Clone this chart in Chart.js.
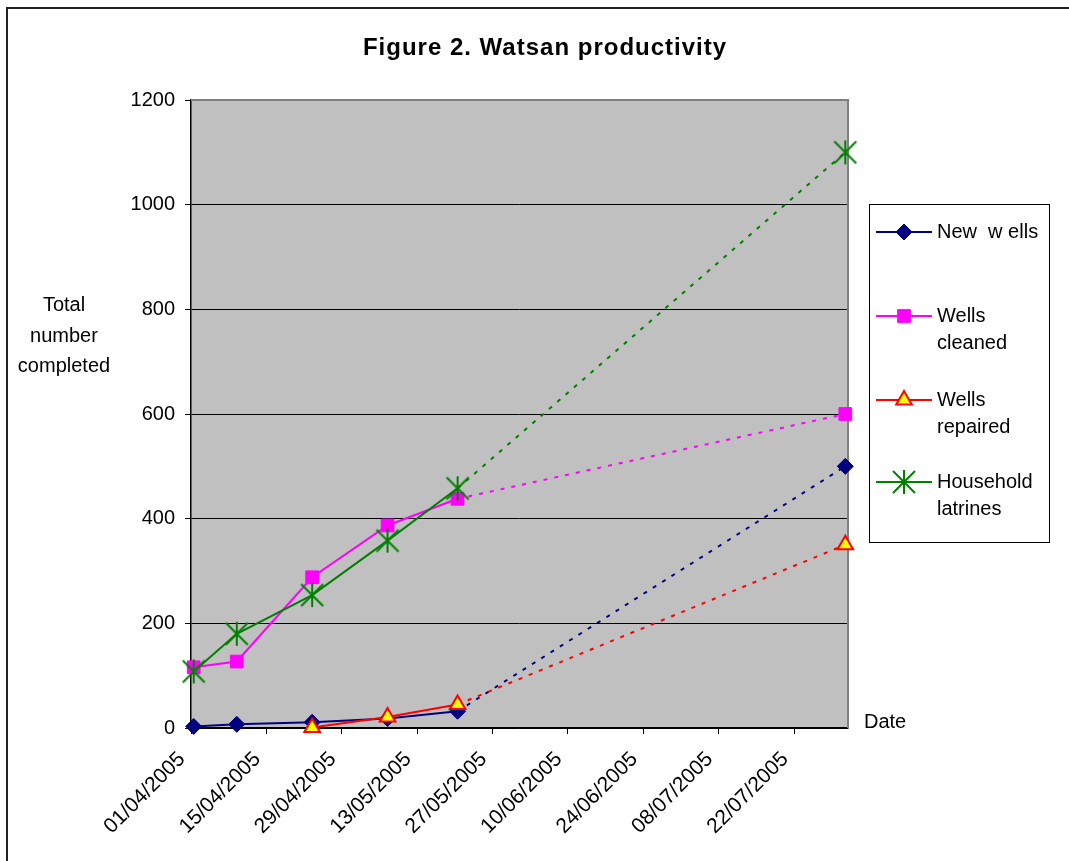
<!DOCTYPE html>
<html>
<head>
<meta charset="utf-8">
<title>Figure 2. Watsan productivity</title>
<script src="https://cdn.jsdelivr.net/npm/chart.js@4.4.1/dist/chart.umd.min.js"></script>
<style>
  html, body { margin: 0; padding: 0; background: #fff; }
  #wrap { width: 1069px; height: 861px; }
</style>
</head>
<body>
<div id="wrap"><canvas id="chart" width="1069" height="861"></canvas></div>
<script>
'use strict';

// reporting dates and running totals
var dates = ['01/04/2005', '09/04/2005', '23/04/2005', '07/05/2005', '20/05/2005', '31/07/2005'];
var newWells = [3, 7, 11, 18, 32, 500];
var wellsCleaned = [116, 127, 288, 387, 438, 600];
var wellsRepaired = [null, null, 1, 21, 45, 350];
var latrines = [108, 180, 254, 358, 458, 1100];
// index of the projected (target) point, joined with a dotted line
var projected = 5;

var xTicks = ['01/04/2005', '15/04/2005', '29/04/2005', '13/05/2005', '27/05/2005',
  '10/06/2005', '24/06/2005', '08/07/2005', '22/07/2005'];
var xEnd = '01/08/2005';
var yMax = 1200;
var yStep = 200;

var FONT = "'Liberation Sans', Arial, sans-serif";
var DAY = 86400000;

function parseDate(s) {
  var p = s.split('/');
  return Date.UTC(+p[2], +p[1] - 1, +p[0]);
}
function dayOf(s) {
  return (parseDate(s) - parseDate(xTicks[0])) / DAY;
}
// excel puts each date in the middle of its day slot
function points(values) {
  return values.map(function (v, i) {
    return { x: dayOf(dates[i]) + 0.5, y: v };
  });
}

// excel style star marker (x with a vertical bar)
var star = document.createElement('canvas');
star.width = 26;
star.height = 26;
(function () {
  var c = star.getContext('2d');
  c.strokeStyle = '#008000';
  c.lineWidth = 2;
  c.beginPath();
  c.moveTo(2, 2); c.lineTo(24, 24);
  c.moveTo(24, 2); c.lineTo(2, 24);
  c.moveTo(13, 1); c.lineTo(13, 25);
  c.stroke();
})();

var dotted = {
  borderDash: function (ctx) {
    return ctx.p1DataIndex === projected ? [4, 7] : undefined;
  }
};

function series(label, data, color, fill, style, radius, order) {
  return {
    label: label,
    data: points(data),
    borderColor: color,
    backgroundColor: fill,
    pointBorderColor: color,
    pointBackgroundColor: fill,
    pointStyle: style,
    pointRadius: radius,
    pointHoverRadius: radius,
    pointBorderWidth: style === 'triangle' ? 2 : 1,
    borderWidth: 2,
    tension: 0,
    spanGaps: false,
    clip: false,
    order: order,
    segment: dotted
  };
}

var decor = {
  id: 'decor',
  beforeDraw: function (chart) {
    var ctx = chart.ctx, a = chart.chartArea;
    ctx.save();
    ctx.fillStyle = '#fff';
    ctx.fillRect(0, 0, chart.width, chart.height);
    ctx.fillStyle = '#C0C0C0';
    ctx.fillRect(a.left, a.top, a.right - a.left, a.bottom - a.top);
    ctx.restore();
  },
  beforeDatasetsDraw: function (chart) {
    var ctx = chart.ctx, a = chart.chartArea;
    ctx.save();
    ctx.strokeStyle = '#808080';
    ctx.lineWidth = 2;
    ctx.beginPath();
    ctx.moveTo(a.left, a.top);
    ctx.lineTo(a.right, a.top);
    ctx.lineTo(a.right, a.bottom);
    ctx.stroke();
    ctx.restore();
  },
  afterDraw: function (chart) {
    var ctx = chart.ctx;
    ctx.save();
    ctx.fillStyle = '#000';
    ctx.textBaseline = 'middle';

    ctx.textAlign = 'center';
    ctx.font = 'bold 24px ' + FONT;
    ctx.letterSpacing = '1px';
    ctx.fillText('Figure 2. Watsan productivity', 545, 48);
    ctx.letterSpacing = '0px';

    ctx.font = '20px ' + FONT;
    ctx.fillText('Total', 64, 305);
    ctx.fillText('number', 64, 336);
    ctx.fillText('completed', 64, 366);
    ctx.textAlign = 'left';
    ctx.fillText('Date', 864, 722);

    // legend
    ctx.fillStyle = '#fff';
    ctx.fillRect(869, 204, 180, 338);
    ctx.strokeStyle = '#000';
    ctx.lineWidth = 1;
    ctx.strokeRect(869.5, 204.5, 180, 338);
    var rows = [232, 316, 400, 482];
    chart.data.datasets.forEach(function (ds, i) {
      var y = rows[i];
      ctx.strokeStyle = ds.borderColor;
      ctx.lineWidth = 2;
      ctx.setLineDash([]);
      ctx.beginPath();
      ctx.moveTo(876, y);
      ctx.lineTo(932, y);
      ctx.stroke();
      ctx.fillStyle = ds.pointBackgroundColor;
      ctx.strokeStyle = ds.pointBorderColor;
      ctx.lineWidth = ds.pointBorderWidth;
      Chart.helpers.drawPoint(ctx, {
        pointStyle: ds.pointStyle,
        radius: ds.pointRadius,
        rotation: 0,
        borderWidth: ds.pointBorderWidth
      }, 904, y);
      ctx.fillStyle = '#000';
      ctx.font = '20px ' + FONT;
      ds.label.split('\n').forEach(function (line, k) {
        ctx.fillText(line, 937, y + k * 27);
      });
    });

    // outer frame
    ctx.strokeStyle = '#222';
    ctx.lineWidth = 2;
    ctx.strokeRect(7, 8, chart.width + 10, chart.height + 10);
    ctx.restore();
  }
};

var chart = new Chart(document.getElementById('chart'), {
  type: 'line',
  data: {
    datasets: [
      series('New  w ells', newWells, '#000080', '#000080', 'rectRot', 8, 4),
      series('Wells\ncleaned', wellsCleaned, '#FF00FF', '#FF00FF', 'rect', 9, 3),
      series('Wells\nrepaired', wellsRepaired, '#FF0000', '#FFFF00', 'triangle', 9, 2),
      series('Household\nlatrines', latrines, '#008000', '#008000', star, 11, 1)
    ]
  },
  options: {
    responsive: false,
    animation: false,
    devicePixelRatio: 1,
    layout: { padding: { top: 100, right: 221, left: 0, bottom: 0 } },
    plugins: {
      legend: { display: false },
      title: { display: false },
      tooltip: { enabled: false }
    },
    scales: {
      x: {
        type: 'linear',
        min: 0,
        max: dayOf(xEnd),
        afterBuildTicks: function (scale) {
          scale.ticks = xTicks.map(function (d) { return { value: dayOf(d) }; });
        },
        afterFit: function (scale) { scale.height = 133; },
        ticks: {
          autoSkip: false,
          minRotation: 45,
          maxRotation: 45,
          color: '#000',
          padding: 13,
          labelOffset: -9,
          font: { family: FONT, size: 21 },
          callback: function (v, i) { return xTicks[i]; }
        },
        grid: { drawOnChartArea: false, color: '#000', tickLength: 6 },
        border: { color: '#000', width: 1.5 }
      },
      y: {
        min: 0,
        max: yMax,
        afterFit: function (scale) { scale.width = 191; },
        ticks: {
          stepSize: yStep,
          color: '#000',
          padding: 10,
          font: { family: FONT, size: 20 },
          callback: function (v) { return String(v); }
        },
        grid: {
          color: function (c) { return c.tick && c.tick.value === yMax ? '#808080' : '#000'; },
          tickColor: '#000',
          tickLength: 6,
          lineWidth: 1
        },
        border: { color: '#000', width: 1.5 }
      }
    }
  },
  plugins: [decor]
});
</script>
</body>
</html>
